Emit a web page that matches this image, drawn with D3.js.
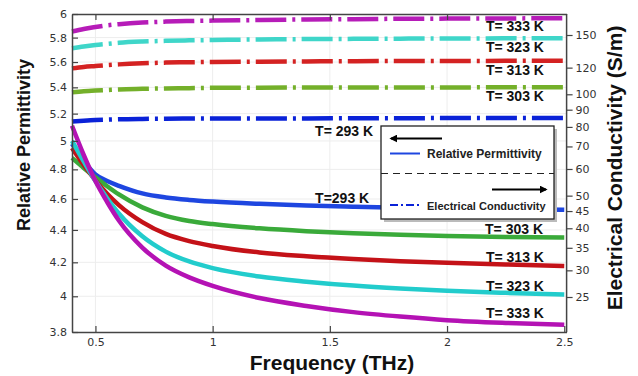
<!DOCTYPE html>
<html>
<head>
  <meta charset="utf-8">
  <script src="https://d3js.org/d3.v7.min.js"></script>
  <style>
    body { margin: 0; }
    svg { display: block; }
  </style>
</head>
<body>
<svg width="638" height="376"></svg>

<script>
// frequency samples (THz) shared by every curve
var freq = [0.4, 0.45, 0.5, 0.55, 0.6, 0.7, 0.8, 0.9, 1.0, 1.2, 1.4, 1.6, 1.8, 2.0, 2.25, 2.5];

// relative permittivity (left axis)
var eps293 = [4.98, 4.86, 4.765, 4.72, 4.688, 4.637, 4.61, 4.594, 4.583, 4.568, 4.557, 4.549, 4.542, 4.537, 4.533, 4.53];
var eps303 = [4.88, 4.81, 4.745, 4.685, 4.63, 4.545, 4.49, 4.457, 4.437, 4.41, 4.392, 4.379, 4.369, 4.362, 4.356, 4.352];
var eps313 = [4.95, 4.83, 4.725, 4.635, 4.56, 4.45, 4.375, 4.33, 4.30, 4.26, 4.237, 4.22, 4.207, 4.197, 4.187, 4.178];
var eps323 = [5.00, 4.855, 4.72, 4.605, 4.505, 4.36, 4.265, 4.205, 4.165, 4.115, 4.085, 4.062, 4.045, 4.032, 4.02, 4.01];
var eps333 = [5.11, 4.90, 4.72, 4.58, 4.46, 4.29, 4.18, 4.11, 4.06, 3.99, 3.945, 3.91, 3.885, 3.865, 3.85, 3.84];

// electrical conductivity in S/m (right axis)
var sig293 = [83.0, 83.5, 83.9, 84.1, 84.3, 84.5, 84.6, 84.7, 84.7, 84.8, 84.8, 84.9, 84.9, 85.0, 85.0, 85.0];
var sig303 = [101.4, 102.1, 102.6, 103.0, 103.4, 103.8, 104.1, 104.3, 104.5, 104.6, 104.7, 104.7, 104.8, 104.8, 104.9, 104.9];
var sig313 = [119.4, 120.5, 121.3, 122.1, 122.7, 123.6, 124.2, 124.5, 124.8, 125.0, 125.2, 125.4, 125.5, 125.6, 125.7, 125.8];
var sig323 = [137.0, 138.7, 140.1, 141.2, 142.2, 143.4, 144.1, 144.6, 144.9, 145.5, 145.9, 146.1, 146.3, 146.5, 146.6, 146.7];
var sig333 = [153.6, 156.3, 158.4, 160.3, 161.5, 163.3, 164.4, 165.1, 165.5, 166.2, 166.8, 167.2, 167.6, 167.8, 168.0, 168.2];

// ticks
var xTicks = [0.5, 1, 1.5, 2, 2.5];
var leftTicks = [3.8, 4, 4.2, 4.4, 4.6, 4.8, 5, 5.2, 5.4, 5.6, 5.8, 6];
var rightTicks = [25, 30, 35, 40, 45, 50, 60, 70, 80, 90, 100, 120, 150];

// curve labels: text, frequency, value
var epsLabels = [["T=293 K", 1.437, 4.574], ["T= 303 K", 2.162, 4.374], ["T= 313 K", 2.166, 4.202],
                 ["T= 323 K", 2.166, 4.031], ["T= 333 K", 2.166, 3.877]];
var sigLabels = [["T= 293 K", 1.437, 75.2], ["T= 303 K", 2.166, 95.6], ["T= 313 K", 2.166, 114.1],
                 ["T= 323 K", 2.166, 133.5], ["T= 333 K", 2.166, 154.2]];

var svg = d3.select("svg");
var plotL = 72, plotR = 566.6, plotT = 14, plotB = 332;

var x = d3.scaleLinear().domain([0.4, 2.51]).range([plotL, plotR]);
var yL = d3.scaleLog().domain([3.8, 6]).range([plotB, plotT]);
var yR = d3.scaleLog().domain([25, 150]).range([297, 35]);

svg.append("rect").attr("width", 638).attr("height", 376).attr("fill", "#fff");

// grid
var grid = svg.append("g").attr("stroke", "#ededed").attr("stroke-width", 1);
grid.selectAll(".gx").data(xTicks.slice(0, 4)).enter().append("line")
  .attr("x1", d => x(d)).attr("x2", d => x(d)).attr("y1", plotT).attr("y2", plotB);
grid.selectAll(".gy").data(leftTicks.slice(1, -1)).enter().append("line")
  .attr("x1", plotL).attr("x2", plotR).attr("y1", d => yL(d)).attr("y2", d => yL(d));

// conductivity, dash-dot
var sigSeries = [[sig293, "#0a22d8"], [sig303, "#74b02a"], [sig313, "#d42222"], [sig323, "#3fd6c9"], [sig333, "#b61cb8"]];
var lineR = d3.line().x((d, i) => x(freq[i])).y(d => yR(d)).curve(d3.curveMonotoneX);
sigSeries.forEach(function (s) {
  svg.append("path").attr("d", lineR(s[0])).attr("fill", "none")
    .attr("stroke", s[1]).attr("stroke-width", 4.5).attr("stroke-dasharray", "31,6,3,6");
});

// permittivity, solid
var epsSeries = [[eps293, "#1e46e0"], [eps303, "#3aaa3a"], [eps313, "#c41218"], [eps323, "#22cccc"], [eps333, "#b412b4"]];
var lineL = d3.line().x((d, i) => x(freq[i])).y(d => yL(d)).curve(d3.curveMonotoneX);
epsSeries.forEach(function (s) {
  svg.append("path").attr("d", lineL(s[0])).attr("fill", "none")
    .attr("stroke", s[1]).attr("stroke-width", 4.5);
});

// curve labels
var lab = svg.append("g").attr("font-family", "Liberation Sans, Arial, sans-serif")
  .attr("font-weight", "bold").attr("font-size", 14).attr("fill", "#111");
epsLabels.forEach(function (l) { lab.append("text").attr("x", x(l[1])).attr("y", yL(l[2])).text(l[0]); });
sigLabels.forEach(function (l) { lab.append("text").attr("x", x(l[1])).attr("y", yR(l[2])).text(l[0]); });

// axes
function styleAxis(g) {
  g.selectAll("path").attr("stroke", "#444").attr("stroke-width", 1.5);
  g.selectAll("line").attr("stroke", "#444").attr("stroke-width", 1.2);
  g.selectAll("text").attr("fill", "#333").attr("font-family", "DejaVu Sans, sans-serif").attr("font-size", 11);
}
svg.append("g").attr("transform", "translate(0," + plotB + ")")
  .call(d3.axisBottom(x).tickValues(xTicks).tickSize(-6).tickSizeOuter(0).tickPadding(6).tickFormat(d => d))
  .call(styleAxis);
svg.append("g").attr("transform", "translate(0," + plotT + ")")
  .call(d3.axisTop(x).tickValues(xTicks.slice(0, 4)).tickSize(-6).tickSizeOuter(0).tickFormat(""))
  .call(styleAxis);
svg.append("g").attr("transform", "translate(" + plotL + ",0)")
  .call(d3.axisLeft(yL).tickValues(leftTicks).tickSize(-6).tickSizeOuter(0).tickPadding(5).tickFormat(d => d))
  .call(styleAxis);
var rAxis = svg.append("g").attr("transform", "translate(" + plotR + ",0)")
  .call(d3.axisRight(yR).tickValues(rightTicks).tickSize(6).tickSizeOuter(0).tickPadding(3).tickFormat(d => d))
  .call(styleAxis);
rAxis.select("path").attr("d", "M0," + plotT + "V" + plotB);

// axis titles
var titles = svg.append("g").attr("font-family", "Liberation Sans, Arial, sans-serif")
  .attr("font-weight", "bold").attr("fill", "#111").attr("text-anchor", "middle");
titles.append("text").attr("transform", "translate(30,145) rotate(-90)").attr("font-size", 18).text("Relative Permittivity");
titles.append("text").attr("transform", "translate(622,168) rotate(-90)").attr("font-size", 21).text("Electrical Conductivity (S/m)");
titles.append("text").attr("x", 332).attr("y", 370).attr("font-size", 21).text("Frequency (THz)");

// legend
var defs = svg.append("defs");
defs.append("marker").attr("id", "arr").attr("viewBox", "0 0 10 10").attr("refX", 8).attr("refY", 5)
  .attr("markerWidth", 4).attr("markerHeight", 4).attr("orient", "auto")
  .append("path").attr("d", "M0,0L10,5L0,10z").attr("fill", "#000");

var lg = svg.append("g").attr("transform", "translate(381,126)");
lg.append("rect").attr("x", 3).attr("y", 3).attr("width", 173).attr("height", 93).attr("fill", "#bbb");
lg.append("rect").attr("width", 173).attr("height", 93).attr("fill", "#fff").attr("stroke", "#222").attr("stroke-width", 1.3);
lg.append("line").attr("x1", 61).attr("x2", 10).attr("y1", 12.5).attr("y2", 12.5)
  .attr("stroke", "#000").attr("stroke-width", 2).attr("marker-end", "url(#arr)");
lg.append("line").attr("x1", 9).attr("x2", 39).attr("y1", 27.5).attr("y2", 27.5).attr("stroke", "#1e46e0").attr("stroke-width", 2);
lg.append("text").attr("x", 46).attr("y", 31.5).attr("font-family", "Liberation Sans, Arial, sans-serif")
  .attr("font-weight", "bold").attr("font-size", 12).attr("fill", "#222").text("Relative Permittivity");
lg.append("line").attr("x1", 0).attr("x2", 173).attr("y1", 47.5).attr("y2", 47.5)
  .attr("stroke", "#222").attr("stroke-width", 1.2).attr("stroke-dasharray", "7,5");
lg.append("line").attr("x1", 111).attr("x2", 165).attr("y1", 63.5).attr("y2", 63.5)
  .attr("stroke", "#000").attr("stroke-width", 2).attr("marker-end", "url(#arr)");
lg.append("line").attr("x1", 9).attr("x2", 39).attr("y1", 79).attr("y2", 79).attr("stroke", "#0a22d8")
  .attr("stroke-width", 2).attr("stroke-dasharray", "8,3,2,3");
lg.append("text").attr("x", 46).attr("y", 83.5).attr("font-family", "Liberation Sans, Arial, sans-serif")
  .attr("font-weight", "bold").attr("font-size", 11).attr("fill", "#222").text("Electrical Conductivity");
</script>
</body>
</html>
